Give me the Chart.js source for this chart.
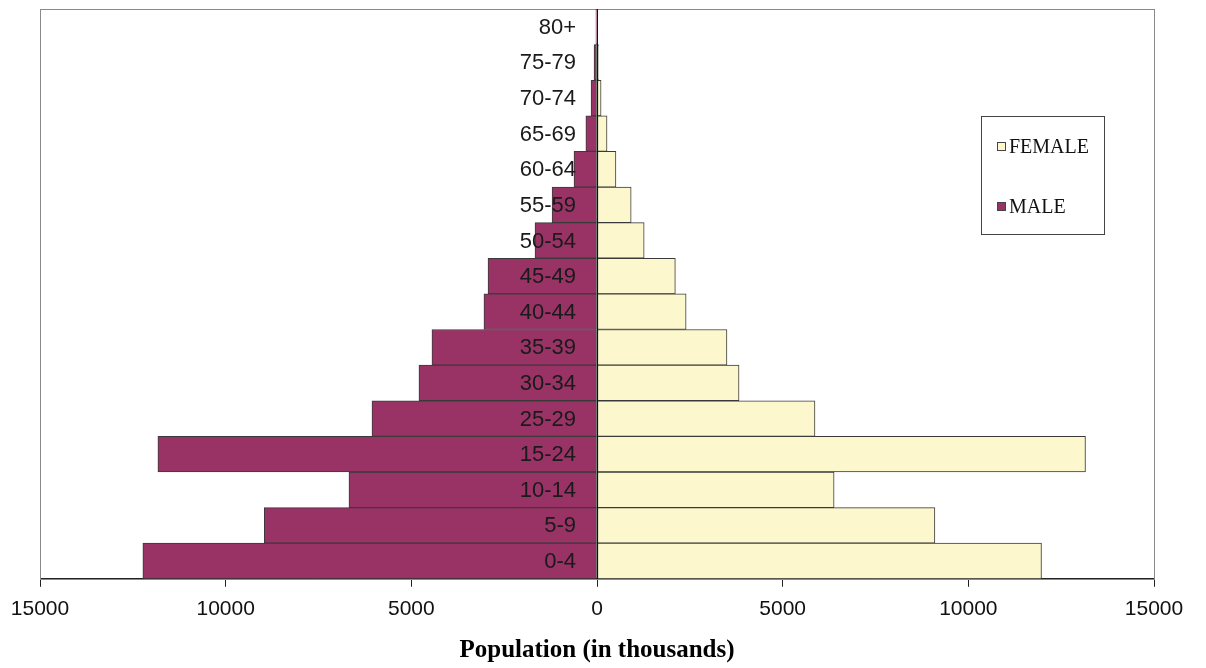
<html>
<body style="margin:0;background:#fff">
  <script src="https://cdn.jsdelivr.net/npm/chart.js@4/dist/chart.umd.min.js"></script>
  <canvas id="myChart" width="1206" height="668"></canvas>
  <script>
    // age groups, top to bottom
    var ageGroups = ['80+', '75-79', '70-74', '65-69', '60-64', '55-59', '50-54', '45-49',
                     '40-44', '35-39', '30-34', '25-29', '15-24', '10-14', '5-9', '0-4']
    // population in thousands
    var malePop = [30, 80, 160, 300, 620, 1210, 1670, 2935, 3045, 4445, 4795, 6060, 11825, 6680, 8960, 12230]
    var femalePop = [15, 40, 110, 270, 510, 920, 1270, 2110, 2400, 3500, 3825, 5870, 13155, 6385, 9100, 11970]
    var xMin = -15000, xMax = 15000, xStep = 5000

    var frame = {
      id: 'frame',
      beforeDatasetsDraw: function(chart) {
        var a = chart.chartArea, ctx = chart.ctx
        ctx.save()
        ctx.strokeStyle = '#8a8a8a'
        ctx.lineWidth = 1
        ctx.strokeRect(Math.round(a.left) + 0.5, Math.round(a.top) + 0.5, Math.round(a.right - a.left), Math.round(a.bottom - a.top))
        ctx.restore()
      }
    }

    // age labels sit just left of the zero line, on top of the bars
    var ageLabels = {
      id: 'ageLabels',
      afterDatasetsDraw: function(chart) {
        var ctx = chart.ctx, ys = chart.scales.y, x0 = chart.scales.x.getPixelForValue(0)
        ctx.save()
        ctx.font = '22px "Liberation Sans", Arial, sans-serif'
        ctx.fillStyle = '#1a1a1a'
        ctx.textAlign = 'right'
        ctx.textBaseline = 'middle'
        ys.ticks.forEach(function(t, i) {
          ctx.fillText(ys.getLabelForValue(t.value), x0 - 21, ys.getPixelForTick(i) + 1)
        })
        ctx.restore()
      }
    }

    var boxLegend = {
      id: 'boxLegend',
      afterDraw: function(chart) {
        var ctx = chart.ctx
        ctx.save()
        ctx.strokeStyle = '#444'
        ctx.lineWidth = 1
        ctx.strokeRect(981.5, 116.5, 123, 118)
        ctx.font = '20px "Liberation Serif", "Times New Roman", serif'
        ctx.textBaseline = 'middle'
        chart.data.datasets.forEach(function(ds, i) {
          var y = 147 + i * 60
          ctx.fillStyle = ds.backgroundColor
          ctx.fillRect(997, y - 5, 9, 9)
          ctx.strokeStyle = '#444'
          ctx.strokeRect(997.5, y - 4.5, 8, 8)
          ctx.fillStyle = '#111'
          ctx.fillText(ds.label, 1009, y + 1)
        })
        ctx.restore()
      }
    }

    var ctx = document.getElementById('myChart').getContext('2d')
    var myChart = new Chart(ctx, {
      type: 'bar',
      data: {
        labels: ageGroups,
        datasets: [{
          label: 'FEMALE',
          data: femalePop,
          backgroundColor: '#fcf7cc',
          borderColor: '#3a3a3a',
          borderWidth: 1,
          borderSkipped: false,
          barPercentage: 1,
          categoryPercentage: 1
        }, {
          label: 'MALE',
          data: malePop.map(function(v) { return -v }),
          backgroundColor: '#993366',
          borderColor: '#3a3a3a',
          borderWidth: 1,
          borderSkipped: false,
          barPercentage: 1,
          categoryPercentage: 1
        }]
      },
      options: {
        responsive: false,
        animation: false,
        indexAxis: 'y',
        layout: { padding: { left: 40, right: 52, top: 9, bottom: 0 } },
        plugins: {
          legend: { display: false },
          tooltip: { enabled: false }
        },
        scales: {
          x: {
            stacked: true,
            min: xMin,
            max: xMax,
            grid: { drawOnChartArea: false, drawTicks: true, tickLength: 8, color: '#222' },
            border: { color: '#222' },
            ticks: {
              stepSize: xStep,
              padding: 10,
              color: '#111',
              font: { family: 'Liberation Sans, Arial', size: 21 },
              maxRotation: 0,
              callback: function(v) { return Math.abs(v) }
            },
            title: {
              display: true,
              text: 'Population (in thousands)',
              color: '#000',
              font: { family: 'Liberation Serif, Times New Roman', size: 25, weight: 'bold' },
              padding: { top: 4, bottom: 2 }
            },
            afterFit: function(s) { s.paddingLeft = 0; s.paddingRight = 0 }
          },
          y: {
            stacked: true,
            position: { x: 0 },
            grid: { display: false, drawTicks: false },
            border: { display: true, color: '#111', width: 1, z: 1 },
            ticks: { display: false },
            afterFit: function(s) { s.paddingTop = 0; s.paddingBottom = 0 }
          }
        }
      },
      plugins: [frame, ageLabels, boxLegend]
    })
  </script>
</body>
</html>
